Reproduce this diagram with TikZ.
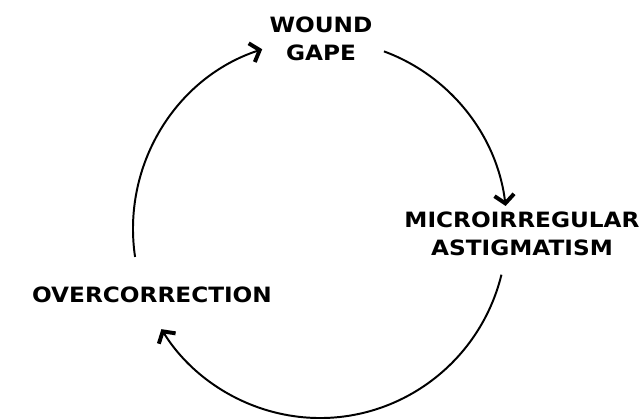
\documentclass[tikz,border=0pt]{standalone}
\usepackage{fontspec}
\newfontfamily\hand[FakeStretch=1.1]{DejaVu Sans}
\usetikzlibrary{arrows.meta}

\begin{document}
\begin{tikzpicture}[x=0.025cm, y=0.025cm,
  stage/.style={font=\hand\bfseries\fontsize{15}{19.5}\selectfont, align=center, inner sep=0pt},
  cyc/.style={line width=1.4pt, -{Straight Barb[length=6pt,width=14pt,line width=2.8pt]}}]

\useasboundingbox (0,0) rectangle (639,419);

% ============================
% STAGES OF THE CYCLE
% ============================

\node[stage] (gape)  at (321,380) {WOUND\\GAPE};
\node[stage] (astig) at (522,185) {MICROIRREGULAR\\ASTIGMATISM};
\node[stage] (overc) at (152,124) {OVERCORRECTION};

% ============================
% CIRCULAR ARROWS
% ============================

\begin{scope}[shift={(320,190)}]
% end points on the (slightly tall) circle
\coordinate (lft) at (188.5:187 and 189);
\coordinate (top) at (70:187 and 189);
\coordinate (rgt) at (-14:187 and 189);

% overcorrection -> wound gape
\draw[cyc] (lft) arc[start angle=188.5, end angle=108, x radius=187, y radius=189];
% wound gape -> microirregular astigmatism
\draw[cyc] (top) arc[start angle=70, end angle=7, x radius=187, y radius=189];
% astigmatism -> overcorrection
\draw[cyc] (rgt) arc[start angle=-14, end angle=-148, x radius=187, y radius=189];
\end{scope}

\end{tikzpicture}
\end{document}
